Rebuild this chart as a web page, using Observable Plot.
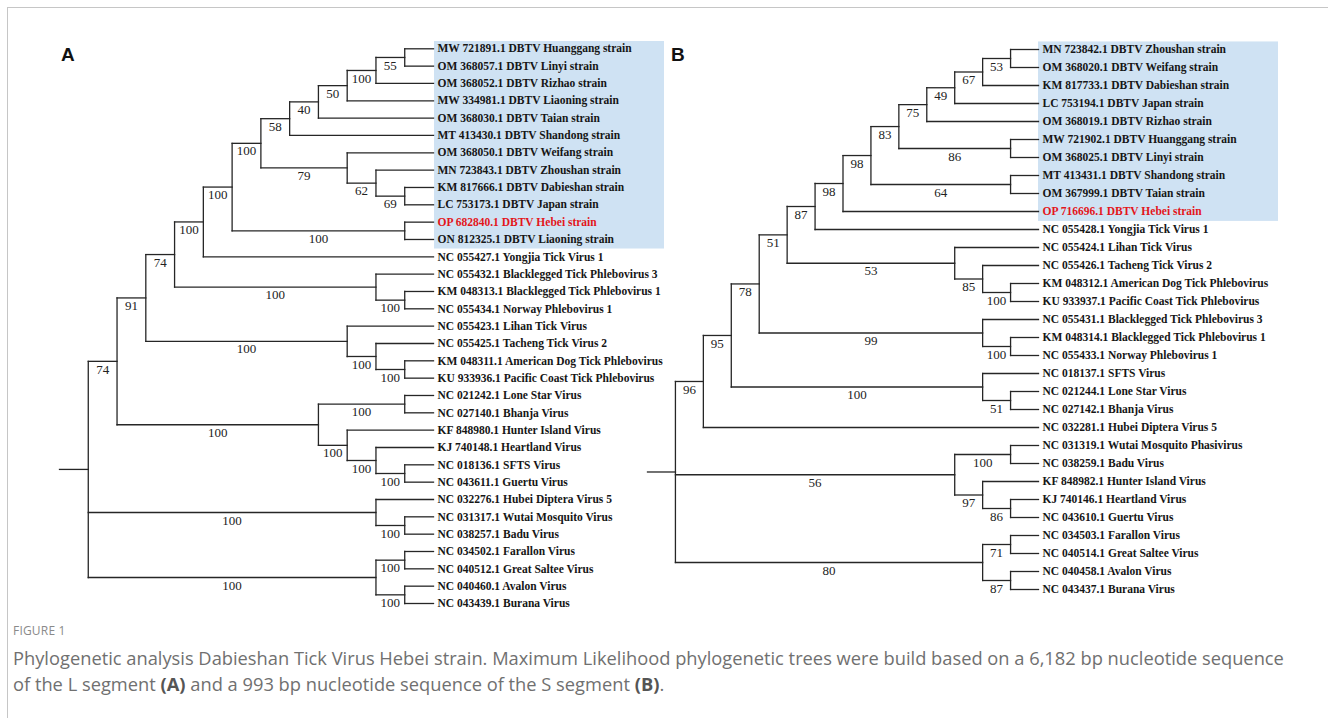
<!DOCTYPE html>
<html>
<head>
<meta charset="utf-8">
<script src="https://cdn.jsdelivr.net/npm/d3@7"></script>
<script src="https://cdn.jsdelivr.net/npm/@observablehq/plot@0.6"></script>
<style>
  html, body { margin: 0; padding: 0; background: #fff; }
  #fig { position: relative; width: 1328px; height: 718px; overflow: hidden; }
  #frame { position: absolute; left: 7px; top: 7px; right: -10px; bottom: -10px;
           border-top: 1.5px solid #c6c6c6; border-left: 1.5px solid #c6c6c6; }
  .panel { position: absolute; left: 0; top: 0; }
  .tag { position: absolute; font-family: "Liberation Sans", Arial, sans-serif; font-weight: bold; font-size: 19px; color: #111; }
  #figno { position: absolute; left: 13px; top: 622px; font-family: "Open Sans", sans-serif; font-size: 12px; color: #8a8a8a; letter-spacing: 0.2px; }
  .cap { position: absolute; left: 13px; font-family: "Open Sans", sans-serif; font-size: 18.3px; color: #707070; white-space: nowrap; line-height: 25px; }
  .cap b { color: #555; }
</style>
</head>
<body>
<div id="fig">
  <div id="frame"></div>
  <div id="panelA" class="panel"></div>
  <div id="panelB" class="panel"></div>
  <div class="tag" style="left:61px; top:44px;">A</div>
  <div class="tag" style="left:671px; top:44px;">B</div>
  <div id="figno">FIGURE 1</div>
  <div class="cap" style="top:645px;">Phylogenetic analysis Dabieshan Tick Virus Hebei strain. Maximum Likelihood phylogenetic trees were build based on a 6,182 bp nucleotide sequence</div>
  <div class="cap" style="top:671px;">of the L segment <b>(A)</b> and a 993 bp nucleotide sequence of the S segment <b>(B)</b>.</div>
</div>
<script>
// ---------- DATA ----------
const tipsA = [
  "MW 721891.1 DBTV Huanggang strain",
  "OM 368057.1 DBTV Linyi strain",
  "OM 368052.1 DBTV Rizhao strain",
  "MW 334981.1 DBTV Liaoning strain",
  "OM 368030.1 DBTV Taian strain",
  "MT 413430.1 DBTV Shandong strain",
  "OM 368050.1 DBTV Weifang strain",
  "MN 723843.1 DBTV Zhoushan strain",
  "KM 817666.1 DBTV Dabieshan strain",
  "LC 753173.1 DBTV Japan strain",
  "OP 682840.1 DBTV Hebei strain",
  "ON 812325.1 DBTV Liaoning strain",
  "NC 055427.1 Yongjia Tick Virus 1",
  "NC 055432.1 Blacklegged Tick Phlebovirus 3",
  "KM 048313.1 Blacklegged Tick Phlebovirus 1",
  "NC 055434.1 Norway Phlebovirus 1",
  "NC 055423.1 Lihan Tick Virus",
  "NC 055425.1 Tacheng Tick Virus 2",
  "KM 048311.1 American Dog Tick Phlebovirus",
  "KU 933936.1 Pacific Coast Tick Phlebovirus",
  "NC 021242.1 Lone Star Virus",
  "NC 027140.1 Bhanja Virus",
  "KF 848980.1 Hunter Island Virus",
  "KJ 740148.1 Heartland Virus",
  "NC 018136.1 SFTS Virus",
  "NC 043611.1 Guertu Virus",
  "NC 032276.1 Hubei Diptera Virus 5",
  "NC 031317.1 Wutai Mosquito Virus",
  "NC 038257.1 Badu Virus",
  "NC 034502.1 Farallon Virus",
  "NC 040512.1 Great Saltee Virus",
  "NC 040460.1 Avalon Virus",
  "NC 043439.1 Burana Virus"
];
// topology with bootstrap support (tip = index into tipsA)
const newickA = "((((((((((((0,1)55,2)100,3)50,4)40,5)58,(6,(7,(8,9)69)62)79)100,(10,11)100)100,12)100,(13,(14,15)100)100)74,(16,(17,(18,19)100)100)100)91,((20,21)100,(22,(23,(24,25)100)100)100)100)74,(26,(27,28)100)100,((29,30)100,(31,32)100)100)";
const highlightA = [0, 11];
const hebeiA = 10;

const tipsB = [
  "MN 723842.1 DBTV Zhoushan strain",
  "OM 368020.1 DBTV Weifang strain",
  "KM 817733.1 DBTV Dabieshan strain",
  "LC 753194.1 DBTV Japan strain",
  "OM 368019.1 DBTV Rizhao strain",
  "MW 721902.1 DBTV Huanggang strain",
  "OM 368025.1 DBTV Linyi strain",
  "MT 413431.1 DBTV Shandong strain",
  "OM 367999.1 DBTV Taian strain",
  "OP 716696.1 DBTV Hebei strain",
  "NC 055428.1 Yongjia Tick Virus 1",
  "NC 055424.1 Lihan Tick Virus",
  "NC 055426.1 Tacheng Tick Virus 2",
  "KM 048312.1 American Dog Tick Phlebovirus",
  "KU 933937.1 Pacific Coast Tick Phlebovirus",
  "NC 055431.1 Blacklegged Tick Phlebovirus 3",
  "KM 048314.1 Blacklegged Tick Phlebovirus 1",
  "NC 055433.1 Norway Phlebovirus 1",
  "NC 018137.1 SFTS Virus",
  "NC 021244.1 Lone Star Virus",
  "NC 027142.1 Bhanja Virus",
  "NC 032281.1 Hubei Diptera Virus 5",
  "NC 031319.1 Wutai Mosquito Phasivirus",
  "NC 038259.1 Badu Virus",
  "KF 848982.1 Hunter Island Virus",
  "KJ 740146.1 Heartland Virus",
  "NC 043610.1 Guertu Virus",
  "NC 034503.1 Farallon Virus",
  "NC 040514.1 Great Saltee Virus",
  "NC 040458.1 Avalon Virus",
  "NC 043437.1 Burana Virus"
];
const newickB = "(((((((((((((0,1)53,2)67,3)49,4)75,(5,6)86)83,(7,8)64)98,9)98,10)87,(11,(12,(13,14)100)85)53)51,(15,(16,17)100)99)78,(18,(19,20)51)100)95,21)96,((22,23)100,(24,(25,26)86)97)56,((27,28)71,(29,30)87)80)";
const highlightB = [0, 9];
const hebeiB = 9;

// ---------- TREE LAYOUT (cladogram: x = levels above tips, y = tip order) ----------
function parseNewick(s) {
  let i = 0;
  function node() {
    if (s[i] === "(") {
      i++;
      const children = [node()];
      while (s[i] === ",") { i++; children.push(node()); }
      i++; // ')'
      let lab = "";
      while (i < s.length && /[0-9.]/.test(s[i])) lab += s[i++];
      return {children, support: lab};
    }
    let lab = "";
    while (i < s.length && /[0-9]/.test(s[i])) lab += s[i++];
    return {tip: +lab};
  }
  return node();
}
function layout(newick) {
  const root = parseNewick(newick);
  const h = [], v = [], sup = [];
  (function place(n) {
    if (!n.children) { n.h = 0; n.y = n.tip; return; }
    n.children.forEach(place);
    n.h = 1 + d3.max(n.children, c => c.h);
    n.y = (n.children[0].y + n.children[n.children.length - 1].y) / 2;
  })(root);
  (function walk(n, parent) {
    if (parent) {
      h.push({x1: parent.h, x2: n.h, y: n.y});
      if (n.support) sup.push({x: (parent.h + n.h) / 2, y: n.y, text: n.support});
    } else {
      h.push({x1: n.h + 1, x2: n.h, y: n.y}); // root stub
    }
    if (n.children) {
      v.push({x: n.h, y1: n.children[0].y, y2: n.children[n.children.length - 1].y});
      n.children.forEach(c => walk(c, n));
    }
  })(root, null);
  return {root, h, v, sup};
}

function drawTree(el, tips, newick, highlight, hebei, opt) {
  const L = layout(newick);
  const tipData = tips.map((t, i) => ({i, t}));
  const serif = "Liberation Serif, Times New Roman, serif";
  const stroke = "#262626";
  const plot = Plot.plot({
    width: 1328, height: 615, margin: 0,
    style: {background: "transparent", overflow: "visible"},
    x: {domain: [L.root.h + 1, 0], range: opt.xr, axis: null},
    y: {domain: [0, tips.length - 1], range: opt.yr, axis: null},
    marks: [
      Plot.rect([highlight], {x1: 0, x2: 0, y1: d => d[0] - 0.42, y2: d => d[1] + 0.55,
        fill: "#cfe2f3", insetLeft: opt.boxL, insetRight: -opt.boxW}),
      Plot.link(L.h, {x1: "x1", x2: "x2", y1: "y", y2: "y", stroke, strokeWidth: 1.3, strokeLinecap: "square"}),
      Plot.link(L.v, {x1: "x", x2: "x", y1: "y1", y2: "y2", stroke, strokeWidth: 1.3, strokeLinecap: "square"}),
      Plot.text(L.sup, {x: "x", y: "y", text: "text", dy: 8, fontSize: 13, fontFamily: serif, fill: "#222"}),
      Plot.text(tipData.filter(d => d.i !== hebei), {x: 0, y: "i", text: "t", dx: 4, textAnchor: "start",
        fontSize: 11.5, fontWeight: "bold", fontFamily: serif, fill: "#161616"}),
      Plot.text(tipData.filter(d => d.i === hebei), {x: 0, y: "i", text: "t", dx: 4, textAnchor: "start",
        fontSize: 11.5, fontWeight: "bold", fontFamily: serif, fill: "#e3161b"})
    ]
  });
  el.appendChild(plot);
}

drawTree(document.getElementById("panelA"), tipsA, newickA, highlightA, hebeiA,
  {xr: [59, 433], yr: [48.3, 603], boxL: 1, boxW: 231});
drawTree(document.getElementById("panelB"), tipsB, newickB, highlightB, hebeiB,
  {xr: [647, 1038], yr: [49, 589], boxL: 0, boxW: 240});
</script>
</body>
</html>
